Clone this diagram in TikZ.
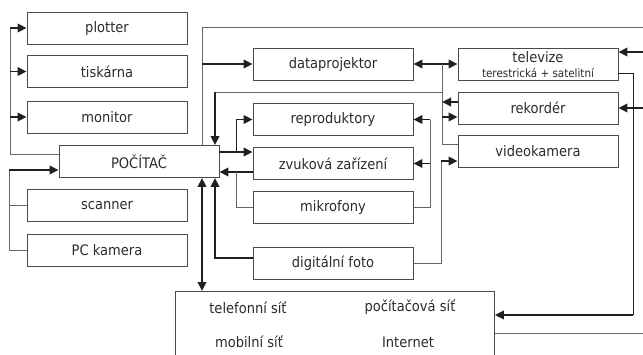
\documentclass[tikz,border=0pt]{standalone}
\usepackage{fontspec}
\setmainfont{DejaVu Sans}[FakeStretch=0.9]
\usetikzlibrary{arrows.meta}
\definecolor{boxline}{HTML}{4A4A4A}
\definecolor{wirecol}{HTML}{666666}
\definecolor{ink}{HTML}{231F20}
\definecolor{txt}{HTML}{2B2B2B}
\begin{document}
\begin{tikzpicture}[x=1pt,y=-1pt,
  box/.style={draw=boxline, line width=0.9pt, minimum width=160pt, minimum height=32pt,
    inner sep=0pt, text=txt, font=\fontsize{14.5}{16}\selectfont},
  lbl/.style={inner sep=0pt, text=txt, font=\fontsize{14.5}{16}\selectfont},
  small/.style={inner sep=0pt, text=txt, font=\fontsize{11.5}{13}\selectfont},
  wire/.style={draw=wirecol, line width=0.9pt},
  darkwire/.style={draw=ink, line width=0.9pt},
  tip/.tip={Triangle[length=9pt,width=8.5pt]},
  feed/.style={draw=ink, line width=1.8pt, -tip},
  both/.style={draw=ink, line width=1.8pt, tip-tip}]

\useasboundingbox (0,0) rectangle (643,354);
\clip (0,0) rectangle (643,354);

% output devices on the left
\node[box] (plotter) at (107,28)   {plotter};
\node[box] (tisk)    at (107,71.5) {tiskárna};
\node[box] (monitor) at (107,117)  {monitor};
% the computer
\node[box] (pc)      at (139,161.5) {POČÍTAČ};
% input devices on the left
\node[box] (scanner) at (107,205.5) {scanner};
\node[box] (pckam)   at (107,250)   {PC kamera};
% middle column
\node[box] (datap)   at (333,64)    {dataprojektor};
\node[box] (repro)   at (333,119.5) {reproduktory};
\node[box] (zvuk)    at (333,163.5) {zvuková zařízení};
\node[box] (mikro)   at (333,207.5) {mikrofony};
\node[box] (foto)    at (333,263)   {digitální foto};
% right column
\node[box] (tv)      at (538,64)    {};
\node[lbl]   at ([yshift=6.5pt]tv.center)  {televize};
\node[small] at ([yshift=-8.5pt]tv.center) {terestrická + satelitní};
\node[box] (rek)     at (538,108)   {rekordér};
\node[box] (video)   at (538,151.5) {videokamera};
% networks
\node[draw=boxline, line width=0.9pt, minimum width=319pt, minimum height=90pt,
      inner sep=0pt, anchor=north west] (net) at (175,291) {};
\node[lbl] at (248,308) {telefonní síť};
\node[lbl] at (410,307) {počítačová síť};
\node[lbl] at (249,342) {mobilní síť};
\node[lbl] at (408,342) {Internet};

% bus positions
\coordinate (lo) at (10,0);
\coordinate (li) at (9,0);
\coordinate (top) at (202,27);
\coordinate (edge) at (650,0);
\coordinate (av) at (442,0);
\coordinate (snd) at (236,0);
\coordinate (mr) at (430,0);
\coordinate (fr) at (441,0);
\coordinate (tr) at (633,0);

% computer -> printers and monitor
\draw[wire] (pc.west |- 0,154) -- (lo |- 0,154) -- (lo |- plotter.west);
\draw[feed] (lo |- plotter.west) -- (plotter.west);
\draw[feed] (lo |- tisk.west) -- (tisk.west);
\draw[feed] (lo |- monitor.west) -- (monitor.west);

% scanner and camera -> computer
\draw[wire] (pckam.west) -- (li |- pckam.west) -- (li |- 0,170);
\draw[wire] (scanner.west) -- (li |- scanner.west);
\draw[feed] (li |- 0,170) -- (pc.west |- 0,170);

% computer -> dataprojektor, and the long line to the right
\draw[wire] (pc.north -| top) -- (top) -- (edge |- top);
\draw[feed] (top |- datap.west) -- (datap.west);

% dataprojektor <-> televize and the video bus
\draw[both] (datap.east) -- (tv.west);
\draw[wire] (av |- tv.west) -- (av |- 0,144) -- (video.west |- 0,144);
\draw[wire] (av |- 0,92) -- (215,92);
\draw[feed] (215,92) -- (pc.north -| 215,0);
\draw[feed] (rek.west |- 0,102) -- (av |- 0,102);
\draw[feed] (av |- 0,117) -- (rek.west |- 0,117);

% sound
\draw[feed] (pc.east |- 0,152) -- (zvuk.west |- 0,152);
\draw[darkwire] (snd |- 0,152) -- (snd |- repro.west);
\draw[feed] (snd |- repro.west) -- (repro.west);
\draw[feed] (zvuk.west |- 0,172) -- (pc.east |- 0,172);
\draw[wire] (mikro.west) -- (snd |- mikro.west) -- (snd |- 0,172);
\draw[wire] (mikro.east) -- (mr |- mikro.east) -- (mr |- repro.east);
\draw[feed] (mr |- repro.east) -- (repro.east);
\draw[feed] (mr |- zvuk.east) -- (zvuk.east);

% digital photo
\draw[wire] (foto.east) -- (fr |- foto.east) -- (fr |- 0,161);
\draw[feed] (fr |- 0,161) -- (video.west |- 0,161);
\draw[feed] (foto.west |- 0,258) -- (215,258) -- (pc.south -| 215,0);

% computer <-> networks
\draw[both] (pc.south -| top) -- (net.north -| top);

% right-hand side
\draw[feed] (edge |- 0,52) -- (tv.east |- 0,52);
\draw[feed] (edge |- rek.east) -- (rek.east);
\draw[darkwire] (tv.east |- 0,73) -- (tr |- 0,73) -- (tr |- 0,315);
\draw[feed] (tr |- 0,315) -- (net.east |- 0,315);
\draw[wire] (net.east |- 0,333) -- (edge |- 0,333);
\end{tikzpicture}
\end{document}
